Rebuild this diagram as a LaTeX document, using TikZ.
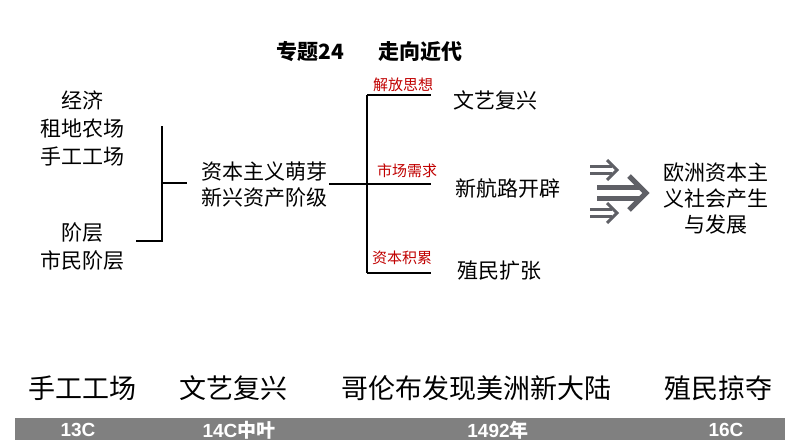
\documentclass[tikz,border=0pt]{standalone}
\usepackage{fontspec}
\setmainfont{Liberation Sans}
\newfontfamily\cjk{Noto Sans CJK SC}
\definecolor{arrowgray}{HTML}{5F6066}
\definecolor{bargray}{HTML}{808080}
\definecolor{labred}{HTML}{C00000}
\begin{document}
\begin{tikzpicture}[x=1pt,y=-1pt,
  txt/.style={font=\cjk\fontsize{21}{28}\selectfont, align=center, inner sep=0pt},
  txtb/.style={font=\cjk\fontsize{21}{26}\selectfont, align=center, inner sep=0pt},
  lab/.style={font=\cjk\fontsize{15}{18}\selectfont, text=labred, inner sep=0pt},
  big/.style={font=\cjk\fontsize{27}{32}\selectfont, inner sep=0pt},
  ttl/.style={font=\cjk\bfseries\fontsize{21}{24}\selectfont, inner sep=0pt},
  bartxt/.style={font=\bfseries\fontsize{19}{22}\selectfont, text=white, inner sep=0pt},
  conn/.style={line width=2.4pt, black},
  arrs/.style={draw=arrowgray, line width=3pt},
  arrb/.style={draw=arrowgray, line width=5pt}]
\useasboundingbox (0,0) rectangle (794,447);
% title
\node[ttl] (t1) at (310,52) {专题24};
\node[ttl] (t2) at (420,52) {走向近代};
% left
\node[txt] (econ) at (82,128) {经济\\租地农场\\手工工场};
\node[txt] (cls) at (82,247) {阶层\\市民阶层};
\node[txtb] (sprout) at (264,185) {资本主义萌芽\\新兴资产阶级};
\coordinate (bl) at (136,241);
\coordinate (bb) at (162,241);
\coordinate (bt) at (162,126);
\coordinate (bm) at (162,183);
\coordinate (bmr) at (187,183);
\draw[conn] (bl) -- (bb) -- (bt);
\draw[conn] (bm) -- (bmr);
% right tree
\coordinate (sm) at (329,184);
\coordinate (tv) at (367,95);
\coordinate (mv) at (367,184);
\coordinate (bv) at (367,273);
\coordinate (e1) at (431,95);
\coordinate (e2) at (431,184);
\coordinate (e3) at (431,273);
\draw[conn] (sm) -- (mv);
\draw[conn] (tv) -- (bv);
\draw[conn] (tv) -- (e1);
\draw[conn] (mv) -- (e2);
\draw[conn] (bv) -- (e3);
\node[lab] (l1) at (403,85) {解放思想};
\node[lab] (l2) at (407,171) {市场需求};
\node[lab] (l3) at (402,258) {资本积累};
\node[txt] (r1) at (495,100) {文艺复兴};
\node[txt] (r2) at (508,188) {新航路开辟};
\node[txt] (r3) at (499,271) {殖民扩张};
% arrows
\draw[arrs] (590,166.5) -- (612,166.5);
\draw[arrs] (590,173.5) -- (612,173.5);
\draw[arrs, line join=miter] (607,160) -- (617,170) -- (607,180);
\draw[arrb] (597,187.5) -- (641,187.5);
\draw[arrb] (597,198.5) -- (641,198.5);
\draw[arrb, line join=miter] (629,176) -- (646,193) -- (629,210);
\draw[arrs] (590,209.5) -- (612,209.5);
\draw[arrs] (590,216.5) -- (612,216.5);
\draw[arrs, line join=miter] (607,203) -- (617,213) -- (607,223);
\node[txtb] (res) at (716,199) {欧洲资本主\\义社会产生\\与发展};
% bottom timeline
\node[big] (b1) at (82,388) {手工工场};
\node[big] (b2) at (233,388) {文艺复兴};
\node[big] (b3) at (476,388) {哥伦布发现美洲新大陆};
\node[big] (b4) at (718,388) {殖民掠夺};
\fill[bargray] (15,418) rectangle (785,440);
\node[bartxt] (c1) at (78,430) {13C};
\node[bartxt] (c2) at (239,430) {14C{\cjk 中叶}};
\node[bartxt] (c3) at (498,430) {1492{\cjk 年}};
\node[bartxt] (c4) at (726,430) {16C};
\end{tikzpicture}
\end{document}
